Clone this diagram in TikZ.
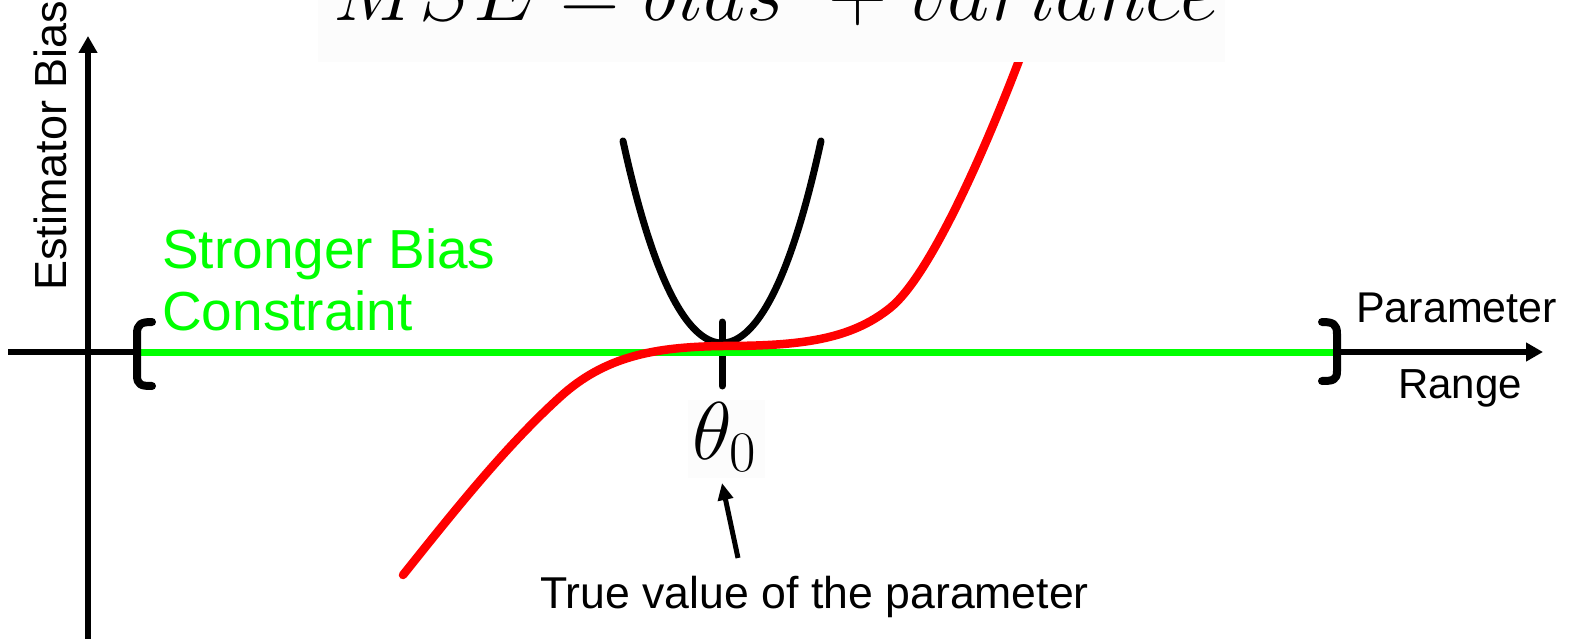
\RequirePackage{fix-cm}
\documentclass[tikz,border=0pt]{standalone}
\usepackage{fontspec}
\setmainfont{Liberation Sans}
\usetikzlibrary{arrows.meta}
\definecolor{brgreen}{RGB}{0,255,0}
\definecolor{brred}{RGB}{255,0,0}
\definecolor{faintbg}{RGB}{252,252,252}
\tikzset{
  axisline/.style={line width=5.5pt,-{Triangle[length=17pt,width=18pt]}},
  bracketline/.style={line width=8pt,line cap=round,line join=round},
  lbl/.style={inner sep=0pt,anchor=base west},
}
\begin{document}
\begin{tikzpicture}[x=1pt,y=-1pt]
\useasboundingbox (0,0) rectangle (1571,639);
\clip (0,0) rectangle (1571,639);
% axes
\coordinate (yb) at (88,639); \coordinate (yt) at (88,36);
\coordinate (xl) at (8,352); \coordinate (xr) at (1543,352);
\draw[axisline] (yb) -- (yt);
\draw[axisline] (xl) -- (xr);
% tick at theta0
\coordinate (tt) at (722,322); \coordinate (tb) at (722,386);
\draw[line width=7pt,line cap=round] (tt) -- (tb);
% black parabola
\draw[line width=7pt,line cap=round] plot[domain=-99:99,samples=80] ({722+\x},{343-0.01806*\x*\x-26*(\x/100)*(\x/100)*(\x/100)*(\x/100)});
% green constraint
\coordinate (gl) at (140,352); \coordinate (gr) at (1333,352);
\draw[brgreen,line width=7pt] (gl) -- (gr);
% red curve
\draw[brred,line width=8.5pt,line cap=round]
  (403,575) .. controls (455,510) and (505,447) .. (560,397)
  .. controls (605,356) and (655,347) .. (722,346)
  .. controls (800,346) and (850,340) .. (890,308)
  .. controls (930,276) and (985,150) .. (1020,58);
% title
\fill[faintbg] (318,0) rectangle (1225,62);
\node[lbl,font=\fontsize{82}{90}\selectfont] (title) at (333,21) {$MSE = bias^2 + variance$};
% brackets
\draw[bracketline] (152,322) .. controls (141,322) and (137,324) .. (137,334) -- (137,375) .. controls (137,385) and (141,386) .. (152,386);
\draw[bracketline] (1322,322) .. controls (1333,322) and (1337,324) .. (1337,334) -- (1337,371) .. controls (1337,380) and (1333,381) .. (1322,381);
% theta label
\fill[faintbg] (688,400) rectangle (765,478);
\node[lbl,font=\fontsize{82}{88}\selectfont] (theta) at (692,459) {$\theta_0$};
% arrow
\coordinate (atail) at (738,558); \coordinate (atip) at (722,483);
\draw[line width=5pt,-{Triangle[length=17pt,width=15pt]}] (atail) -- (atip);
% texts
\node[lbl,rotate=90,font=\fontsize{45}{50}\selectfont] (ylab) at (66,291) {Estimator Bias};
\node[lbl,text=brgreen,font=\fontsize{55}{60}\selectfont] (sb) at (162,268) {Stronger Bias};
\node[lbl,text=brgreen,font=\fontsize{55}{60}\selectfont] (con) at (162,330) {Constraint};
\node[lbl,font=\fontsize{43}{48}\selectfont] (par) at (1356,322) {Parameter};
\node[lbl,font=\fontsize{42}{48}\selectfont] (rng) at (1398,398) {Range};
\node[lbl,font=\fontsize{44.6}{50}\selectfont] (tv) at (540,608) {True value of the parameter};
\end{tikzpicture}
\end{document}
